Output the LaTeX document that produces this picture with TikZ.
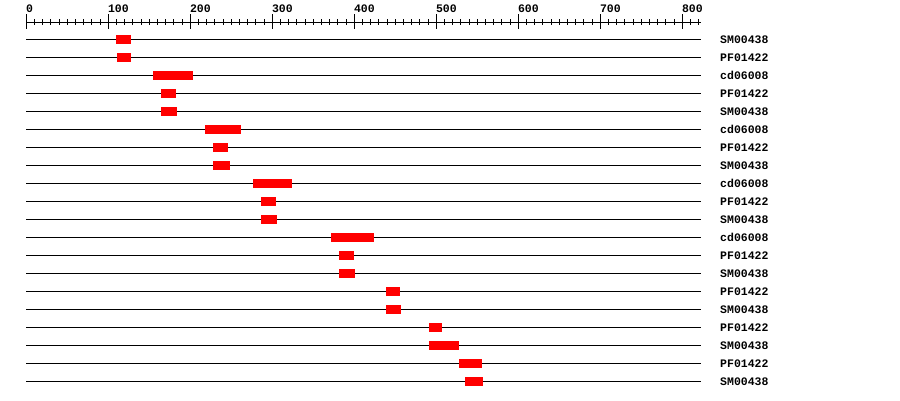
\documentclass[tikz,border=0pt]{standalone}
\usepackage{fontspec}
\newfontfamily\lblfont{Liberation Mono}[BoldFont={* Bold}]
\begin{document}
\begin{tikzpicture}[x=1pt,y=-1pt,
  rowline/.style={draw=black,line width=1pt},
  hit/.style={fill=red,draw=none},
  tick/.style={draw=black,line width=1pt},
  lbl/.style={anchor=base west,inner sep=0pt,font=\lblfont\bfseries\fontsize{11.5}{12}\selectfont},
  axlbl/.style={anchor=base west,inner sep=0pt,font=\lblfont\bfseries\fontsize{11.5}{12}\selectfont}]
\useasboundingbox (0,0) rectangle (900,400);
\fill[white] (0,0) rectangle (900,400);
% axis
\draw[tick] (26.3,22) -- (701,22);
\foreach \v in {0,10,...,820}{
  \pgfmathsetmacro{\px}{26.3+0.82*\v}
  \draw[tick] (\px,19) -- (\px,25);
}
\foreach \v in {0,100,...,800}{
  \pgfmathsetmacro{\px}{26.3+0.82*\v}
  \draw[tick] (\px,14) -- (\px,29);
  \node[axlbl] (ax\v) at (\px-0.5,12) {\v};
}
% rows
\foreach \i/\a/\b/\t in {
 1/116/131/SM00438, 2/117/131/PF01422, 3/153/193/cd06008, 4/161/176/PF01422,
 5/161/177/SM00438, 6/205/241/cd06008, 7/213/228/PF01422, 8/213/230/SM00438,
 9/253/292/cd06008, 10/261/276/PF01422, 11/261/277/SM00438, 12/331/374/cd06008,
 13/339/354/PF01422, 14/339/355/SM00438, 15/386/400/PF01422, 16/386/401/SM00438,
 17/429/442/PF01422, 18/429/459/SM00438, 19/459/482/PF01422, 20/465/483/SM00438}{
  \pgfmathsetmacro{\yy}{39.3+18*(\i-1)}
  \draw[rowline] (26.3,\yy) -- (701,\yy);
  \fill[hit] (\a,\yy-4.5) rectangle (\b,\yy+4.5);
  \node[lbl] (r\i) at (720,\yy+3.7) {\t};
}
\end{tikzpicture}
\end{document}
